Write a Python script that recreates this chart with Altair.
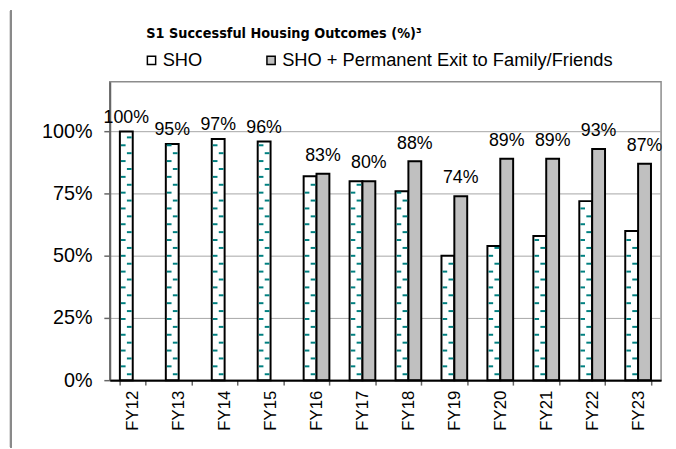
import altair as alt
import pandas as pd

years = ["FY12", "FY13", "FY14", "FY15", "FY16", "FY17",
         "FY18", "FY19", "FY20", "FY21", "FY22", "FY23"]
sho = [100, 95, 97, 96, 82, 80, 76, 50, 54, 58, 72, 60]
sho_plus = [None, None, None, None, 83, 80, 88, 74, 89, 89, 93, 87]
series_names = ["SHO", "SHO + Permanent Exit to Family/Friends"]
y_ticks = [0, 25, 50, 75, 100]
title_text = "S1 Successful Housing Outcomes (%)\u00b3"

wide = pd.DataFrame({"year": years, "sho": sho})
long = pd.concat([
    pd.DataFrame({"year": years, "series": series_names[0], "value": sho}),
    pd.DataFrame({"year": years, "series": series_names[1], "value": sho_plus}),
]).dropna()
labels = pd.DataFrame({
    "year": years,
    "series": [series_names[1] if p is not None else series_names[0] for p in sho_plus],
    "value": [p if p is not None else s for s, p in zip(sho, sho_plus)],
})

TEAL = "#008080"
GRAY = "#C0C0C0"
FONT = "Liberation Sans, Arial, sans-serif"
NARROW = "DejaVu Sans Condensed, sans-serif"

x_axis = alt.Axis(title=None, labelAngle=270, labelFontSize=17, labelFont=FONT,
                  labelColor="black", labelPadding=5, tickBand="extent",
                  tickColor="#666666", tickSize=5, tickWidth=1.5,
                  domainColor="black", domainWidth=2, grid=False, zindex=1)
y_axis = alt.Axis(title=None, values=y_ticks, labelExpr="datum.value + '%'",
                  labelFontSize=20, labelFont=FONT, labelColor="black",
                  labelPadding=12, tickColor="#666666", tickSize=6, tickWidth=1.5,
                  domainColor="#666666", domainWidth=2, grid=True,
                  gridColor="#a6a6a6", gridWidth=1)

x_scale = alt.Scale(domain=years, paddingInner=0.44, paddingOuter=0.22)
xo_scale = alt.Scale(domain=series_names, paddingInner=0, paddingOuter=0)
y_scale = alt.Scale(domain=[0, 120], nice=False)


def X():
    return alt.X("year:N", sort=years, scale=x_scale, axis=x_axis)


def XO():
    return alt.XOffset("series:N", scale=xo_scale)


bars = alt.Chart(long).mark_bar(stroke="black", strokeWidth=2).encode(
    x=X(),
    xOffset=XO(),
    y=alt.Y("value:Q", scale=y_scale, axis=y_axis),
    fill=alt.Fill("series:N", scale=alt.Scale(domain=series_names, range=["white", GRAY]),
                  legend=alt.Legend(title=None, orient="none", legendX=33, legendY=-31,
                                    direction="horizontal", symbolType="square",
                                    symbolSize=70, symbolStrokeColor="black",
                                    symbolStrokeWidth=1.5, labelFontSize=18.5,
                                    labelFont=FONT, labelColor="black", labelLimit=500,
                                    columnPadding=60, labelOffset=2)),
)


def dashes(start, path):
    return alt.Chart(wide).transform_calculate(
        series="'SHO'",
        lv=f"sequence({start}, datum.sho - 0.5, 6.35)",
    ).transform_flatten(["lv"]).mark_point(
        shape=path, size=144, filled=False, stroke=TEAL, strokeWidth=2, opacity=1
    ).encode(
        x=X(),
        xOffset=XO(),
        y=alt.Y("lv:Q", scale=y_scale, axis=y_axis),
    )


dash_right = dashes(2.38, "M 0.1 0 L 0.9 0")
dash_left = dashes(5.56, "M -0.9 0 L -0.12 0")


def label_layer(series, dy):
    return alt.Chart(labels).transform_filter(
        alt.datum.series == series
    ).transform_calculate(txt="datum.value + '%'").mark_text(
        fontSize=18, font=FONT, color="black", baseline="alphabetic", dy=dy
    ).encode(
        x=X(),
        xOffset=XO(),
        y=alt.Y("value:Q", scale=y_scale, axis=y_axis),
        text="txt:N",
    )


frame_line = alt.Chart(wide).mark_rule(color="#8a8a8a", strokeWidth=2).encode(
    x=alt.value(-100), y=alt.value(-72), y2=alt.value(370)
)

chart = alt.layer(
    bars, dash_right, dash_left,
    label_layer(series_names[0], -9),
    label_layer(series_names[1], -13),
    frame_line,
).properties(
    width=558, height=302,
    title=alt.TitleParams(text=title_text, anchor="start", frame="group", dx=37,
                          offset=0, dy=32, fontSize=14.5, font=NARROW, fontWeight="bold",
                          color="black"),
    autosize=alt.AutoSizeParams(type="none"),
    padding={"left": 103, "top": 72, "right": 7, "bottom": 67},
).configure_view(stroke="#8c8c8c", strokeWidth=1.5)

chart.save("out.html", embed_options={"renderer": "svg", "actions": False})
